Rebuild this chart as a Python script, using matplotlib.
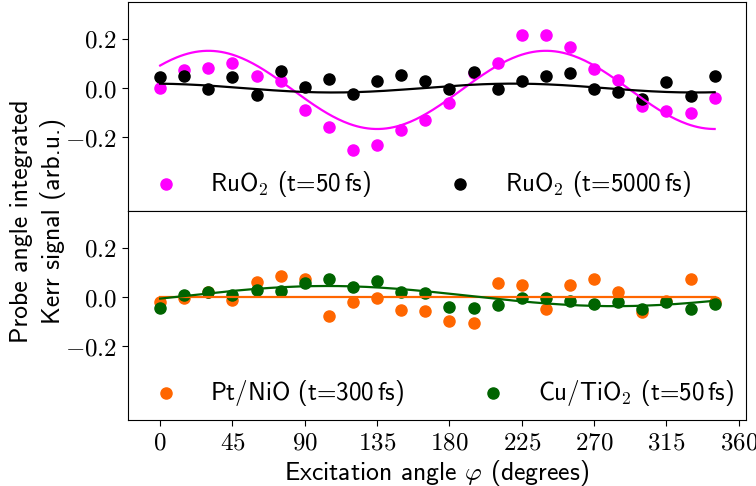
import numpy as np
import matplotlib
matplotlib.use("Agg")
import matplotlib.pyplot as plt
from matplotlib.ticker import FuncFormatter

plt.rcParams['font.family'] = 'cmss10'
plt.rcParams['mathtext.fontset'] = 'cm'
plt.rcParams['axes.unicode_minus'] = False

# excitation angles (degrees)
phi = np.arange(0, 360, 15)

# top panel: RuO2
ruo2_50 = [0.0, 0.073, 0.08, 0.10, 0.051, 0.028, -0.089, -0.158, -0.25, -0.233, -0.171, -0.129,
           -0.062, 0.06, 0.102, 0.214, 0.214, 0.167, 0.077, 0.032, -0.073, -0.092, -0.102, -0.039]
ruo2_5000 = [0.046, 0.049, -0.003, 0.046, -0.028, 0.069, 0.004, 0.038, -0.024, 0.03, 0.053, 0.028,
             -0.005, 0.066, -0.005, 0.03, 0.049, 0.062, -0.005, -0.015, -0.043, 0.026, -0.032, 0.049]

# bottom panel: Pt/NiO and Cu/TiO2
ptnio_300 = [-0.021, -0.005, 0.021, -0.012, 0.06, 0.086, 0.072, -0.077, -0.021, -0.003, -0.053, -0.056,
             -0.097, -0.107, 0.056, 0.049, -0.049, 0.049, 0.073, 0.022, -0.062, -0.015, 0.073, -0.019]
cutio2_50 = [-0.046, 0.008, 0.019, 0.008, 0.028, 0.024, 0.056, 0.073, 0.042, 0.065, 0.022, 0.015,
             -0.039, -0.043, -0.032, -0.003, -0.005, -0.016, -0.028, -0.019, -0.049, -0.019, -0.049, -0.03]

# fit parameters: offset, amplitude, phase (deg), period (deg)
fit_ruo2_50 = (-0.0075, 0.159, 30, 210)
fit_ruo2_5000 = (0.0, 0.018, 220, 225)
fit_ptnio_300 = (0.002, 0.0, 0, 360)
fit_cutio2_50 = (0.004, 0.041, 104, 358)

labels = ['RuO$_2$ (t=50$\\,$fs)', 'RuO$_2$ (t=5000$\\,$fs)',
          'Pt/NiO (t=300$\\,$fs)', 'Cu/TiO$_2$ (t=50$\\,$fs)']
colors = ['#ff00ff', 'black', '#ff6600', '#006400']


def fit(p, x):
    c, a, x0, T = p
    return c + a * np.cos(2 * np.pi * (x - x0) / T)


xf = np.linspace(0, 345, 300)

fig = plt.figure(figsize=(7.56, 4.86), dpi=100)
ax1 = fig.add_axes([128 / 756, 1 - 211 / 486, 618 / 756, 209 / 486])
ax2 = fig.add_axes([128 / 756, 1 - 420 / 486, 618 / 756, 209 / 486], sharex=ax1)

ax1.scatter(phi, ruo2_50, s=64, color=colors[0], label=labels[0], zorder=2)
ax1.scatter(phi, ruo2_5000, s=64, color=colors[1], label=labels[1], zorder=2)
ax1.plot(xf, fit(fit_ruo2_50, xf), color=colors[0], lw=1.6, zorder=3)
ax1.plot(xf, fit(fit_ruo2_5000, xf), color=colors[1], lw=1.6, zorder=3)

ax2.scatter(phi, ptnio_300, s=64, color=colors[2], label=labels[2], zorder=2)
ax2.scatter(phi, cutio2_50, s=64, color=colors[3], label=labels[3], zorder=2)
ax2.plot(xf, fit(fit_ptnio_300, xf), color=colors[2], lw=1.6, zorder=3)
ax2.plot(xf, fit(fit_cutio2_50, xf), color=colors[3], lw=1.6, zorder=3)

fmt = FuncFormatter(lambda v, pos: '$%.1f$' % v if abs(v) > 1e-9 else '$0.0$')
for ax in (ax1, ax2):
    ax.set_ylim(-0.5, 0.35)
    ax.set_yticks([-0.2, 0.0, 0.2])
    ax.yaxis.set_major_formatter(fmt)
    ax.tick_params(labelsize=18, length=4.5)
    ax.legend(loc='lower left', ncol=2, frameon=False, fontsize=18,
              borderaxespad=0.1, columnspacing=2.55, handletextpad=0.8)

ax1.set_xlim(-20, 364.5)
ax2.set_xticks(np.arange(0, 361, 45))
ax2.xaxis.set_major_formatter(FuncFormatter(lambda v, pos: '$%d$' % v))
ax1.tick_params(axis='x', bottom=False, labelbottom=False)

ax2.set_xlabel('Excitation angle $\\varphi$ (degrees)', fontsize=18.5, labelpad=3)
fig.text(38 / 756, 1 - 221 / 486, 'Probe angle integrated\nKerr signal (arb.u.)',
         rotation=90, ha='center', va='center', multialignment='center',
         fontsize=18.5, linespacing=1.3)

fig.savefig('out.png', dpi=100)
